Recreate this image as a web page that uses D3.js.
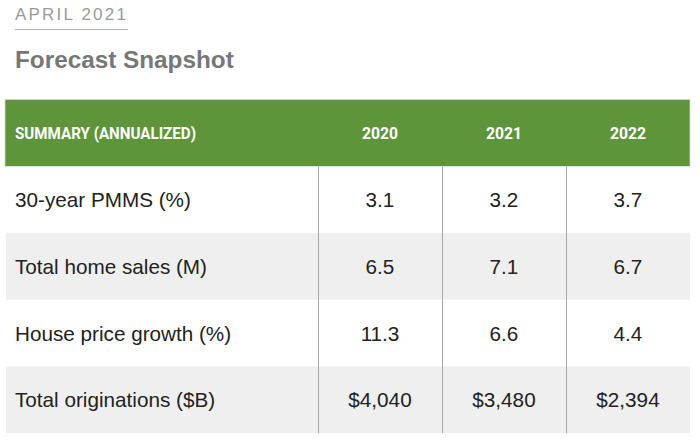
<!DOCTYPE html>
<html><head><meta charset="utf-8">
<script src="https://cdn.jsdelivr.net/npm/d3@7"></script>
<style>body{margin:0;background:#fff}</style>
</head><body>
<svg id="c" width="700" height="444"></svg>
<script>
const kicker = "APRIL 2021";
const title = "Forecast Snapshot";
const headerLabel = "SUMMARY (ANNUALIZED)";
const years = ["2020", "2021", "2022"];
const metrics = ["30-year PMMS (%)", "Total home sales (M)", "House price growth (%)", "Total originations ($B)"];
const v2020 = ["3.1", "6.5", "11.3", "$4,040"];
const v2021 = ["3.2", "7.1", "6.6", "$3,480"];
const v2022 = ["3.7", "6.7", "4.4", "$2,394"];
const valuesByYear = [v2020, v2021, v2022];

const svg = d3.select("#c");
const font = "Helvetica, 'Liberation Sans', Arial, sans-serif";

// titles
svg.append("text").attr("x", 15).attr("y", 20).text(kicker)
  .attr("font-family", font).attr("font-size", 17).attr("letter-spacing", 2.2)
  .attr("fill", "#9a9a9a");
svg.append("line").attr("x1", 15).attr("x2", 128).attr("y1", 29.5).attr("y2", 29.5)
  .attr("stroke", "#b5b5b5").attr("stroke-width", 1.2);
svg.append("text").attr("x", 15).attr("y", 68).text(title)
  .attr("font-family", font).attr("font-size", 24.3).attr("font-weight", "bold")
  .attr("fill", "#777777");

// column scale
const colKeys = ["label", ...years];
const x = d3.scaleOrdinal().domain(colKeys).range([5, 318, 442, 566]);
const colEnd = 690;
const widths = [318 - 5, 442 - 318, 566 - 442, colEnd - 566];

// row scale
const y = d3.scaleBand().domain(["header", ...metrics]).range([100, 433]).paddingInner(0);

// header
svg.append("rect").attr("x", 5).attr("y", y("header") - 0.5).attr("width", colEnd - 5).attr("height", y.bandwidth() + 0.5)
  .attr("fill", "#5e953b").attr("stroke", "#d8d8d8").attr("stroke-width", 0.8);

const hdrFont = "Roboto, 'Liberation Sans', sans-serif";
svg.append("text").attr("x", 15).attr("y", y("header") + y.bandwidth() / 2 + 6)
  .text(headerLabel).attr("font-family", hdrFont).attr("font-weight", "bold")
  .attr("font-size", 17).attr("fill", "#fff").attr("textLength", 181).attr("lengthAdjust", "spacingAndGlyphs");
years.forEach((yr, i) => {
  svg.append("text").attr("x", x(yr) + widths[i + 1] / 2).attr("y", y("header") + y.bandwidth() / 2 + 6)
    .attr("text-anchor", "middle").text(yr).attr("font-family", hdrFont).attr("font-weight", "bold")
    .attr("font-size", 17).attr("fill", "#fff").attr("textLength", 36).attr("lengthAdjust", "spacingAndGlyphs");
});

// body rows
metrics.forEach((m, r) => {
  const y0 = y(m);
  svg.append("rect").attr("x", 6).attr("y", y0).attr("width", colEnd - 6).attr("height", y.bandwidth())
    .attr("fill", r % 2 === 1 ? "#efefef" : "#ffffff");
  svg.append("text").attr("x", 15).attr("y", y0 + y.bandwidth() / 2 + 7.5)
    .text(m).attr("font-family", font).attr("font-size", 20.7).attr("fill", "#222");
  years.forEach((yr, i) => {
    svg.append("text").attr("x", x(yr) + widths[i + 1] / 2).attr("y", y0 + y.bandwidth() / 2 + 7.5)
      .attr("text-anchor", "middle").text(valuesByYear[i][r])
      .attr("font-family", font).attr("font-size", 20.7).attr("fill", "#222");
  });
});

// vertical separators
years.forEach(yr => {
  svg.append("line").attr("x1", x(yr) + 0.5).attr("x2", x(yr) + 0.5)
    .attr("y1", y(metrics[0])).attr("y2", y(metrics[metrics.length - 1]) + y.bandwidth())
    .attr("stroke", "#a8a8a8").attr("stroke-width", 1);
});
</script>
</body></html>
